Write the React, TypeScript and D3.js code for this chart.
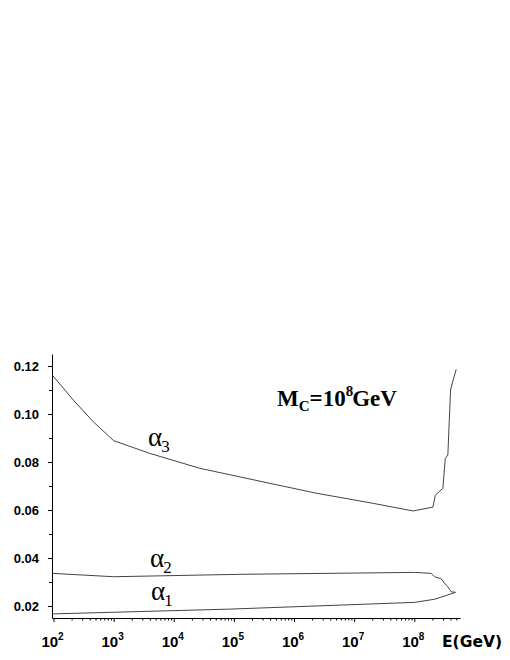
import { useEffect, useRef } from 'react';
import * as d3 from 'd3';

// energies are given as log10(E/GeV)
const alpha3LogE = [1.98, 2.33, 2.66, 3.0, 3.6, 4.43, 5.6, 6.37, 7.31, 7.98, 8.31, 8.35, 8.475, 8.515, 8.558, 8.603, 8.631, 8.697];
const alpha3Values = [0.1162, 0.1058, 0.0968, 0.0889, 0.0836, 0.0774, 0.0711, 0.067, 0.0628, 0.0596, 0.0612, 0.0662, 0.069, 0.0815, 0.0829, 0.11, 0.1128, 0.1186];

const alpha2LogE = [1.98, 3.0, 5.1, 8.0, 8.28, 8.337, 8.448, 8.503, 8.558, 8.614, 8.686];
const alpha2Values = [0.0336, 0.0322, 0.0332, 0.034, 0.0336, 0.0322, 0.0313, 0.0295, 0.028, 0.0259, 0.0257];

const alpha1LogE = [1.98, 4.93, 8.0, 8.337, 8.558, 8.686];
const alpha1Values = [0.0167, 0.0187, 0.0215, 0.0228, 0.0246, 0.0257];

const yTicks = [0.02, 0.04, 0.06, 0.08, 0.1, 0.12];
const yTickLabels = ['0.02', '0.04', '0.06', '0.08', '0.10', '0.12'];
const yMinorTicks = [0.03, 0.05, 0.07, 0.09, 0.11];
const xExponents = [2, 3, 4, 5, 6, 7, 8];

function CouplingChart() {
  const ref = useRef(null);

  useEffect(() => {
    const svg = d3.select(ref.current);
    svg.selectAll('*').remove();

    const x = d3.scaleLog().domain([10 ** 1.975, 10 ** 8.76]).range([52, 460]);
    const y = d3.scaleLinear().domain([0.015, 0.125]).range([618, 354]);

    const xMinor = [];
    for (let e = 1; e <= 8; e++) {
      for (let m = 2; m <= 9; m++) {
        const v = m * 10 ** e;
        if (v > x.domain()[0] && v < x.domain()[1]) xMinor.push(v);
      }
    }

    const bottom = svg.append('g').attr('transform', `translate(0, ${y.range()[0]})`);
    bottom.call(d3.axisBottom(x).tickValues(xExponents.map((e) => 10 ** e)).tickFormat(() => '').tickSize(4).tickSizeOuter(0));
    bottom.append('g').call(d3.axisBottom(x).tickValues(xMinor).tickFormat(() => '').tickSize(2.5).tickSizeOuter(0))
      .select('.domain').remove();

    const left = svg.append('g').attr('transform', `translate(${x.range()[0]}, 0)`);
    left.call(d3.axisLeft(y).tickValues(yTicks).tickFormat(() => '').tickSize(4).tickSizeOuter(0));
    left.append('g').call(d3.axisLeft(y).tickValues(yMinorTicks).tickFormat(() => '').tickSize(3).tickSizeOuter(0))
      .select('.domain').remove();

    svg.selectAll('.domain, .tick line').attr('stroke', '#000').attr('stroke-width', 1);

    // y tick labels
    svg.append('g').selectAll('text')
      .data(yTicks)
      .enter()
      .append('text')
      .attr('x', 39)
      .attr('y', (d) => y(d) + 5)
      .attr('text-anchor', 'end')
      .attr('font-family', 'Liberation Sans, Arial, sans-serif')
      .attr('font-weight', 'bold')
      .attr('font-size', 13)
      .text((d, i) => yTickLabels[i]);

    // x tick labels 10^n
    const xl = svg.append('g').selectAll('text')
      .data(xExponents)
      .enter()
      .append('text')
      .attr('x', (d) => x(10 ** d) - 1)
      .attr('y', 647)
      .attr('text-anchor', 'middle')
      .attr('font-family', 'Liberation Sans, Arial, sans-serif')
      .attr('font-weight', 'bold')
      .attr('font-size', 15);
    xl.append('tspan').text('10');
    xl.append('tspan').attr('dy', -7).attr('font-size', 10).text((d) => d);

    svg.append('text')
      .attr('x', 442)
      .attr('y', 647)
      .attr('font-family', 'DejaVu Sans, sans-serif')
      .attr('font-weight', 'bold')
      .attr('font-size', 15.5)
      .text('E(GeV)');

    // curves
    const line = d3.line()
      .x((d) => x(10 ** d[0]))
      .y((d) => y(d[1]));
    const series = [
      [alpha3LogE, alpha3Values],
      [alpha2LogE, alpha2Values],
      [alpha1LogE, alpha1Values],
    ];
    svg.append('g').selectAll('path')
      .data(series)
      .enter()
      .append('path')
      .attr('d', (s) => line(s[0].map((e, i) => [e, s[1][i]])))
      .attr('fill', 'none')
      .attr('stroke', '#444')
      .attr('stroke-width', 1);

    // alpha labels
    const serif = 'Liberation Serif, Times New Roman, serif';
    const alphaLabels = [
      { sub: '3', x: 148, y: 446 },
      { sub: '2', x: 150, y: 567 },
      { sub: '1', x: 151, y: 600 },
    ];
    const al = svg.append('g').selectAll('text')
      .data(alphaLabels)
      .enter()
      .append('text')
      .attr('x', (d) => d.x)
      .attr('y', (d) => d.y)
      .attr('font-family', serif)
      .attr('font-size', 27);
    al.append('tspan').text('α');
    al.append('tspan').attr('dy', 6).attr('dx', -1).attr('font-size', 17).text((d) => d.sub);

    const mc = svg.append('text')
      .attr('x', 277)
      .attr('y', 406)
      .attr('font-family', serif)
      .attr('font-weight', 'bold')
      .attr('font-size', 23);
    mc.append('tspan').text('M');
    mc.append('tspan').attr('dy', 5).attr('font-size', 15).text('C');
    mc.append('tspan').attr('dy', -5).text('=10');
    mc.append('tspan').attr('dy', -10).attr('font-size', 15).text('8');
    mc.append('tspan').attr('dy', 10).attr('dx', -1).text('GeV');
  }, []);

  return <svg ref={ref} width={510} height={660} style={{ position: 'absolute', left: 0, top: 0, background: '#fff' }}></svg>;
}

export default function App() {
  return <CouplingChart />;
}
